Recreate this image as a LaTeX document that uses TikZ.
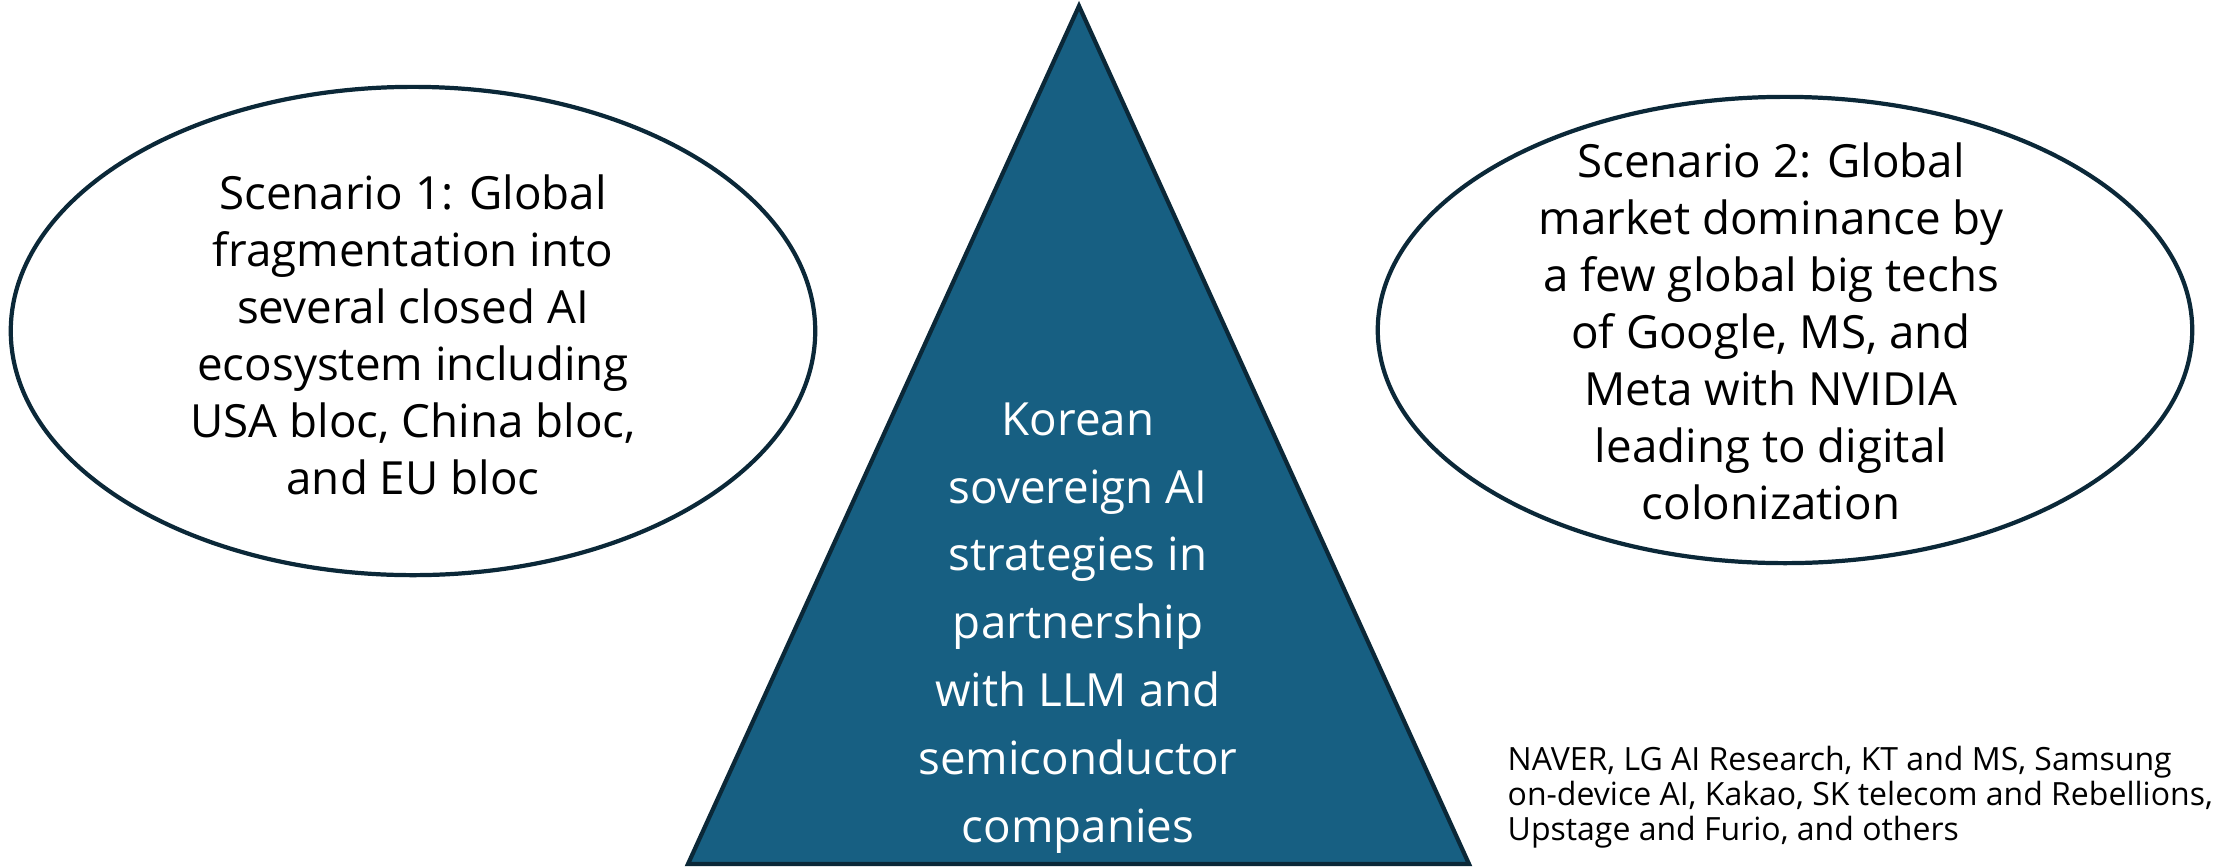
\documentclass[tikz,border=0pt]{standalone}
\usepackage{fontspec}
\setmainfont{Open Sans}
\usetikzlibrary{shapes.geometric}
\definecolor{navy}{HTML}{0B2838}
\definecolor{steel}{HTML}{175F82}

\begin{document}
\begin{tikzpicture}[x=0.01cm,y=-0.01cm]
	\useasboundingbox (0,0) rectangle (2235,866);
	\draw[navy, line width=1.2pt, fill=steel] (1079,6) -- (1469,864) -- (688,864) -- cycle;
	\draw[navy, line width=1.2pt] (413,331) ellipse [x radius=4.02cm, y radius=2.44cm];
	\draw[navy, line width=1.2pt] (1785,330) ellipse [x radius=4.07cm, y radius=2.33cm];
	\node[align=center, inner sep=0pt, font=\fontsize{13}{16.2}\selectfont] (scen1) at (413,335) {Scenario 1: Global\\fragmentation into\\several closed AI\\ecosystem including\\USA bloc, China bloc,\\and EU bloc};
	\node[align=center, inner sep=0pt, font=\fontsize{13}{16.2}\selectfont] (scen2) at (1771,331) {Scenario 2: Global\\market dominance by\\a few global big techs\\of Google, MS, and\\Meta with NVIDIA\\leading to digital\\colonization};
	\node[align=center, inner sep=0pt, text=white, font=\fontsize{13}{19.3}\selectfont] (sovereign) at (1078,628) {Korean\\sovereign AI\\strategies in\\partnership\\with LLM and\\semiconductor\\companies};
	\node[align=left, anchor=west, inner sep=0pt, font=\fontsize{9.1}{9.9}\selectfont] (firms) at (1507,797) {NAVER, LG AI Research, KT and MS, Samsung\\on-device AI, Kakao, SK telecom and Rebellions,\\Upstage and Furio, and others};
\end{tikzpicture}
\end{document}
